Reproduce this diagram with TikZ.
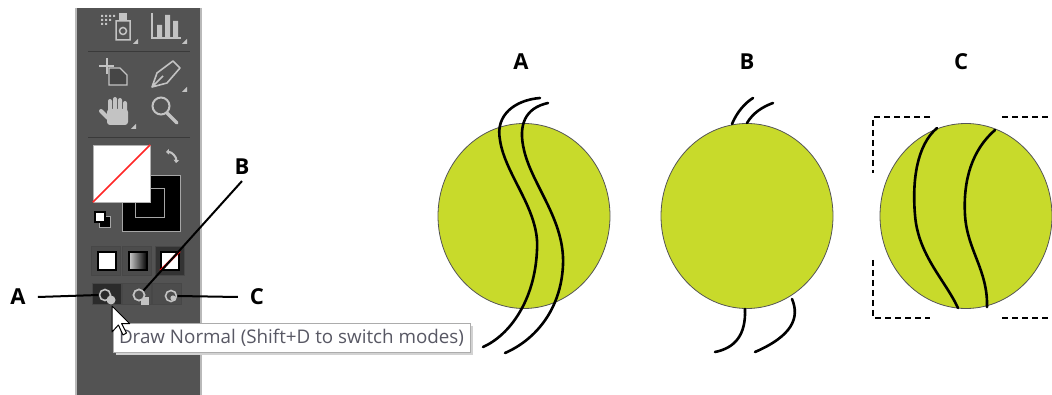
\documentclass[tikz,border=0pt]{standalone}
\usepackage{fontspec}
\setmainfont{Open Sans}
\usepackage{tikz}
\usetikzlibrary{arrows.meta,positioning,shapes.geometric}
\definecolor{panel}{RGB}{83,83,83}
\definecolor{icon}{RGB}{195,195,195}
\definecolor{ballfill}{RGB}{200,218,43}
\definecolor{balledge}{RGB}{85,85,85}
\definecolor{tiptext}{RGB}{88,88,100}
\begin{document}
\begin{tikzpicture}[x=1pt,y=-1pt,tag/.style={font=\fontsize{22}{22}\selectfont\bfseries,inner sep=0pt},ptr/.style={line width=2pt},ball/.style={ellipse,draw=balledge,line width=0.8pt,fill=ballfill,minimum width=172pt,minimum height=185pt,inner sep=0pt},seam/.style={line width=2.6pt,line cap=round},corner/.style={line width=1.6pt,dash pattern=on 6pt off 4pt},cell/.style={draw=panel!85!black,fill=panel!92!black,minimum width=29pt,minimum height=29pt,inner sep=0pt},mode/.style={circle,draw=icon,line width=1.6pt,minimum size=11pt,inner sep=0pt},tri/.style={fill=icon}]
\useasboundingbox (0,0) rectangle (1052,395);
\fill[panel] (75,8) rectangle (202,395);
\draw[gray!55,line width=2.4pt] (76,8) -- (76,395) (201,8) -- (201,395);
\draw[panel!70!black] (88,51) -- (190,51) (88,137) -- (190,137);
\fill[icon] (101,15) rectangle (103,17) (105,15) rectangle (107,17) (109,15) rectangle (111,17) (113,15) rectangle (115,17) (101,19) rectangle (103,21) (105,19) rectangle (107,21) (109,19) rectangle (111,21) (101,23) rectangle (103,25) (105,23) rectangle (107,25);
\fill[icon] (119,13) rectangle (127,20);
\draw[icon,line width=1.5pt] (116,21) rectangle (130,40) (123,31) circle (3.5);
\draw[icon,line width=2pt] (152,13) -- (152,38) -- (181,38);
\fill[icon] (157,25) rectangle (162,37) (165,15) rectangle (170,37) (173,21) rectangle (178,37);
\fill[tri] (133,44) -- (138,44) -- (138,39) -- cycle (182,44) -- (187,44) -- (187,39) -- cycle;
\draw[icon,line width=1.6pt] (107,58) -- (107,74) (99,66) -- (114,66);
\draw[icon,fill=gray!55!black,line width=1.2pt] (109,68) -- (120,68) -- (127,75) -- (127,85) -- (109,85) -- cycle;
\draw[icon,line width=1.6pt,line join=round] (152,87) -- (157,73) -- (173,61) -- (180,68) -- (167,83) -- cycle (152,87) -- (163,76);
\fill[tri] (182,92) -- (187,92) -- (187,87) -- cycle;
\draw[icon,line width=4pt,line cap=round] (110,101) -- (110,112) (115,99) -- (115,112) (120,100) -- (120,112) (125,103) -- (125,114) (101,111) -- (108,118);
\fill[icon,rounded corners=3pt] (107,109) rectangle (128,125);
\fill[tri] (131,129) -- (136,129) -- (136,124) -- cycle;
\draw[icon,line width=2pt] (161,106) circle (8.5);
\draw[icon,line width=3.5pt,line cap=round] (167,113) -- (177,123);
\node[draw=gray!70,fill=black,minimum width=58pt,minimum height=56pt,inner sep=0pt] (strokebox) at (151,203) {};
\node[draw=gray!70,fill=black,minimum size=29pt,inner sep=0pt] (strokeinner) at (150,202.5) {};
\node[draw=gray!60,fill=white,minimum width=57pt,minimum height=57pt,inner sep=0pt] (fillbox) at (121.5,173.5) {};
\draw[red!85!white,line width=1.6pt] (fillbox.south west) -- (fillbox.north east);
\draw[icon,line width=2pt,{Triangle[length=3pt,width=5.5pt]}-{Triangle[length=3pt,width=5.5pt]}] (166,152) to[bend left=50] (176,163);
\fill[black] (99,216) rectangle (110,227);
\draw[gray!70,line width=0.8pt] (99,216) rectangle (110,227);
\draw[black,fill=white,line width=1.2pt] (95,212) rectangle (105,222);
\node[cell] (cellW) at (106,261) {};
\node[cell] (cellG) at (137,261) {};
\node[cell,fill=black!80] (cellN) at (170,261) {};
\node[draw=black,line width=1.5pt,fill=white,minimum size=18pt,inner sep=0pt] (solid) at (107,261) {};
\node[draw=black,line width=1.5pt,left color=gray!40,right color=black,minimum size=18pt,inner sep=0pt] (grad) at (138,261) {};
\node[draw=black,line width=1.5pt,fill=white,minimum size=18pt,inner sep=0pt] (none) at (170,261) {};
\draw[red,line width=2.2pt] (none.south west) -- (none.north east);
\node[cell,fill=black!83,minimum height=21pt] (cellA) at (107,294) {};
\node[cell,minimum height=21pt] (cellB) at (137,294) {};
\node[cell,minimum height=21pt] (cellC) at (167,294) {};
\node[mode] (icoA) at (105,295) {};
\fill[icon] (111,300) circle (4.5);
\node[mode] (icoB) at (139,295) {};
\fill[icon] (141,297) rectangle (149,305);
\draw[icon,line width=1.6pt,fill=panel!92!black] (139,295) circle (5.5);
\node[mode] (icoC) at (171,296) {};
\fill[icon] (173,298) circle (2.6);
\node[tag,inner xsep=12pt] (labA) at (18,297) {A};
\node[tag,inner xsep=12pt] (labC) at (257,297) {C};
\node[tag,inner sep=6pt] (labB) at (242,167) {B};
\draw[ptr] (labA.east) -- (icoA.west);
\draw[ptr] (icoC.east) -- (labC.west);
\draw[ptr] (labB.south) -- (icoB.north east);
\fill[gray!35] (116,326) rectangle (473,355);
\node[draw=gray!65,fill=white,minimum width=357pt,minimum height=29pt,inner sep=0pt,font=\fontsize{18.8}{18.8}\selectfont,text=tiptext] (tooltip) at (291.5,338) {Draw Normal (Shift+D to switch modes)};
\draw[black,fill=white,line width=1pt,line join=round] (112,306) -- ++(0,26) -- ++(6.4,-7) -- ++(4.6,10) -- ++(3.5,-2) -- ++(-4.9,-9.4) -- ++(8,0) -- cycle;
\node[ball] (ballA) at (524,216) {};
\node[ball] (ballB) at (747,216) {};
\node[ball] (ballC) at (966,216) {};
\node[tag,above=53pt of ballA,xshift=-3pt] (capA) {A};
\node[tag,above=53pt of ballB] (capB) {B};
\node[tag,above=53pt of ballC,xshift=-5pt] (capC) {C};
\draw[seam] (540,98) .. controls (515,100) and (495,115) .. (500,140) .. controls (505,175) and (540,210) .. (537,250) .. controls (535,300) and (510,335) .. (483,347);
\draw[seam] (548,103) .. controls (525,108) and (518,125) .. (524,150) .. controls (532,185) and (565,220) .. (563,265) .. controls (561,310) and (535,340) .. (505,353);
\draw[seam] (732,124) .. controls (737,112) and (745,103) .. (753,98);
\draw[seam] (747,123) .. controls (753,113) and (762,107) .. (773,103);
\draw[seam] (745,309) .. controls (746,335) and (735,348) .. (715,352);
\draw[seam] (792,299) .. controls (800,318) and (792,336) .. (755,352);
\draw[seam] (937,128) .. controls (917,145) and (912,180) .. (915,215) .. controls (918,255) and (945,280) .. (958,308);
\draw[seam] (995,130) .. controls (972,150) and (963,180) .. (965,215) .. controls (967,250) and (988,270) .. (987,307);
\draw[corner] (930,117) -- (873,117) -- (873,173) (873,260) -- (873,318) -- (930,318) (1002,117) -- (1052,117) (1002,318) -- (1052,318);
\end{tikzpicture}
\end{document}
